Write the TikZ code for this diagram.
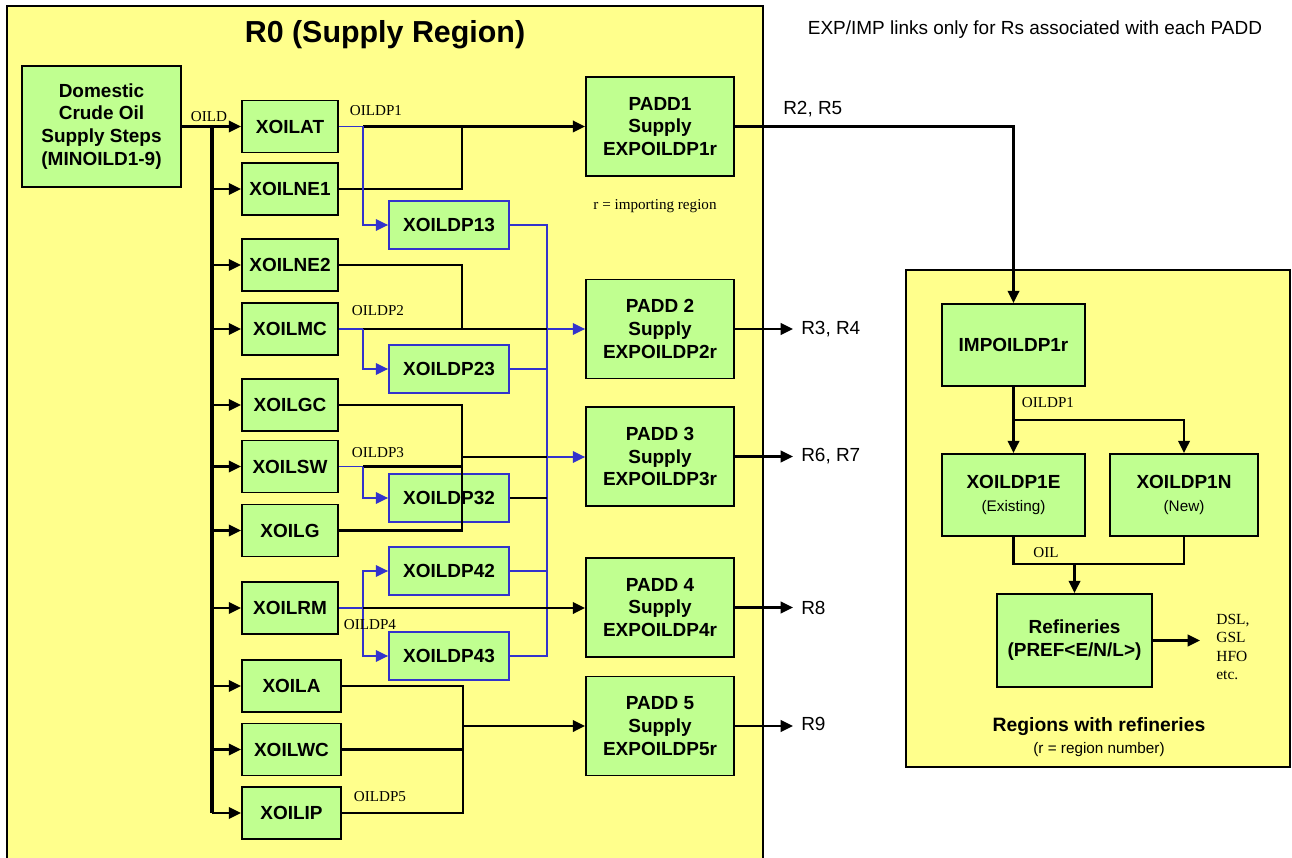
\documentclass[tikz,border=0pt]{standalone}
\usepackage{fontspec}
\setmainfont{Liberation Serif}
\setsansfont{Liberation Sans}
\usetikzlibrary{arrows.meta,positioning}
\definecolor{regionyellow}{RGB}{255,255,140}
\definecolor{boxgreen}{RGB}{192,255,144}
\definecolor{linkblue}{RGB}{51,51,204}

\begin{document}
\begin{tikzpicture}[x=0.02cm,y=-0.02cm,
  box/.style={draw=black,fill=boxgreen,line width=1pt,align=center,inner sep=1pt,
    font=\sffamily\bfseries\fontsize{10.8}{13}\selectfont},
  xbox/.style={box,minimum width=1.92cm,minimum height=1.04cm},
  dpbox/.style={box,draw=linkblue,minimum width=2.4cm,minimum height=0.96cm},
  paddbox/.style={box,minimum width=2.96cm,minimum height=1.98cm},
  flow/.style={line width=1.4pt},
  arr/.style={flow,-{Triangle[length=7pt,width=6.5pt]}},
  blueflow/.style={line width=1.1pt,draw=linkblue},
  bluearr/.style={blueflow,-{Triangle[length=7pt,width=6.5pt]}},
  lbl/.style={font=\fontsize{8.6}{10.5}\selectfont,inner sep=0pt},
  rlbl/.style={font=\sffamily\fontsize{10.8}{13}\selectfont,inner xsep=4.5pt,inner ysep=0pt,anchor=west}]
\useasboundingbox (0,0) rectangle (1292,858);

\draw[fill=regionyellow,line width=1.2pt] (7,6) rectangle (763,880);
\draw[fill=regionyellow,line width=1.2pt] (906,270) rectangle (1290,767);
\node[font=\sffamily\bfseries\fontsize{17.3}{20}\selectfont] (title) at (385,35) {R0 (Supply Region)};
\node[font=\sffamily\fontsize{10.8}{13}\selectfont] (note) at (1035,30) {EXP/IMP links only for Rs associated with each PADD};

\node[box,minimum width=3.18cm,minimum height=2.42cm] (dom) at (101.5,126.5) {Domestic\\Crude Oil\\Supply Steps\\(MINOILD1-9)};

\node[xbox] (XOILAT) at (290,126.5) {XOILAT};
\node[xbox] (XOILNE1) at (290,189) {XOILNE1};
\node[xbox] (XOILNE2) at (290,265) {XOILNE2};
\node[xbox] (XOILMC) at (290,329) {XOILMC};
\node[xbox] (XOILGC) at (290,405) {XOILGC};
\node[xbox] (XOILSW) at (290,466.5) {XOILSW};
\node[xbox] (XOILG) at (290,530.5) {XOILG};
\node[xbox] (XOILRM) at (290,608) {XOILRM};
\node[xbox,minimum width=1.98cm] (XOILA) at (291.5,686) {XOILA};
\node[xbox,minimum width=1.98cm] (XOILWC) at (291.5,749.5) {XOILWC};
\node[xbox,minimum width=1.98cm] (XOILIP) at (291.5,813) {XOILIP};

\node[dpbox] (XOILDP13) at (449,225) {XOILDP13};
\node[dpbox] (XOILDP23) at (449,369) {XOILDP23};
\node[dpbox] (XOILDP32) at (449,498) {XOILDP32};
\node[dpbox] (XOILDP42) at (449,571) {XOILDP42};
\node[dpbox] (XOILDP43) at (449,656) {XOILDP43};

\node[paddbox] (PADD1) at (660,126.5) {PADD1\\Supply\\EXPOILDP1r};
\node[paddbox] (PADD2) at (660,329) {PADD 2\\Supply\\EXPOILDP2r};
\node[paddbox] (PADD3) at (660,456.5) {PADD 3\\Supply\\EXPOILDP3r};
\node[paddbox] (PADD4) at (660,607.5) {PADD 4\\Supply\\EXPOILDP4r};
\node[paddbox] (PADD5) at (660,726) {PADD 5\\Supply\\EXPOILDP5r};

\node[box,minimum width=2.86cm,minimum height=1.64cm] (imp) at (1013.5,345) {IMPOILDP1r};
\node[box,minimum width=2.86cm,minimum height=1.64cm] (exist) at (1013.5,495) {XOILDP1E\\{\mdseries\fontsize{8.7}{10.5}\selectfont(Existing)}};
\node[box,minimum width=2.96cm,minimum height=1.64cm] (new) at (1184,495) {XOILDP1N\\{\mdseries\fontsize{8.7}{10.5}\selectfont(New)}};
\node[box,minimum width=3.1cm,minimum height=1.86cm] (ref) at (1074.5,640.5) {Refineries\\(PREF<E/N/L>)};

\coordinate (bustop) at (212,126.5);
\coordinate (busend) at (212,813);
\draw[arr] (dom.east) -- (XOILAT.west);
\draw[line width=2pt] (bustop) -- (busend);
\draw[arr] (busend) -- (XOILIP.west);
\draw[arr] (XOILNE1.west -| bustop) -- (XOILNE1.west);
\draw[arr] (XOILNE2.west -| bustop) -- (XOILNE2.west);
\draw[arr] (XOILMC.west -| bustop) -- (XOILMC.west);
\draw[arr] (XOILGC.west -| bustop) -- (XOILGC.west);
\draw[arr] (XOILSW.west -| bustop) -- (XOILSW.west);
\draw[arr] (XOILG.west -| bustop) -- (XOILG.west);
\draw[arr] (XOILRM.west -| bustop) -- (XOILRM.west);
\draw[arr] (XOILA.west -| bustop) -- (XOILA.west);
\draw[arr] (XOILWC.west -| bustop) -- (XOILWC.west);
\node[lbl] (oild) at (209,117) {OILD};

\coordinate (j1) at (363,126.5);
\coordinate (m1) at (462,126.5);
\draw[flow] (XOILNE1.east) -| (m1);
\draw[arr] (j1) -- (PADD1.west);
\draw[blueflow] (XOILAT.east) -- (j1);
\draw[bluearr] (j1) |- (XOILDP13.west);
\node[lbl] (oildp1) at (376,111) {OILDP1};

\coordinate (btop) at (547,225);
\coordinate (bbot) at (547,656);
\draw[blueflow] (XOILDP13.east) -- (btop) -- (bbot) -- (XOILDP43.east);
\draw[blueflow] (XOILDP23.east) -- (XOILDP23.east -| btop);
\draw[blueflow] (XOILDP42.east) -- (XOILDP42.east -| btop);
\draw[flow] (XOILDP32.east) -- (XOILDP32.east -| btop);

\coordinate (j2) at (363,329);
\coordinate (m2) at (462,329);
\coordinate (b2) at (547,329);
\draw[flow] (XOILNE2.east) -| (m2);
\draw[flow] (j2) -- (b2);
\draw[bluearr] (b2) -- (PADD2.west);
\draw[blueflow] (XOILMC.east) -- (j2);
\draw[bluearr] (j2) |- (XOILDP23.west);
\node[lbl] (oildp2) at (378,311) {OILDP2};

\coordinate (j3) at (363,466.5);
\coordinate (m3top) at (462,405);
\coordinate (m3) at (462,457);
\coordinate (m3bot) at (462,530.5);
\coordinate (b3) at (547,457);
\draw[flow] (XOILGC.east) -- (m3top) -- (m3bot) -- (XOILG.east);
\draw[flow] (j3) -- (j3 -| m3top);
\draw[flow] (m3) -- (b3);
\draw[bluearr] (b3) -- (b3 -| PADD3.west);
\draw[blueflow] (XOILSW.east) -- (j3);
\draw[bluearr] (j3) |- (XOILDP32.west);
\node[lbl] (oildp3) at (378,453) {OILDP3};

\coordinate (j4) at (363,608);
\draw[blueflow] (XOILRM.east) -- (j4);
\draw[bluearr] (j4) |- (XOILDP42.west);
\draw[bluearr] (j4) |- (XOILDP43.west);
\draw[arr] (j4) -- (j4 -| PADD4.west);
\node[lbl] (oildp4) at (370,625) {OILDP4};

\coordinate (m5top) at (463,686);
\coordinate (m5) at (463,726);
\coordinate (m5bot) at (463,813);
\draw[flow] (XOILA.east) -- (m5top) -- (m5bot) -- (XOILIP.east);
\draw[flow] (XOILWC.east) -- (XOILWC.east -| m5top);
\draw[arr] (m5) -- (PADD5.west);
\node[lbl] (oildp5) at (380,797) {OILDP5};

\node[lbl] (imptxt) at (655,206) {r = importing region};

\node[rlbl] (r25) at (775,109) {R2, R5};
\node[rlbl] (r34) at (793,329) {R3, R4};
\node[rlbl] (r67) at (793,456.5) {R6, R7};
\node[rlbl] (r8) at (793,607.5) {R8};
\node[rlbl] (r9) at (793,724) {R9};
\draw[arr] (PADD1.east) -| (imp.north);
\draw[arr] (PADD2.east) -- (r34.west);
\draw[arr] (PADD3.east) -- (r67.west);
\draw[arr] (PADD4.east) -- (r8.west);
\draw[arr] (PADD5.east) -- (PADD5.east -| r9.west);

\coordinate (split) at (1013.5,420);
\coordinate (merge) at (1074.5,564);
\coordinate (prodtip) at (1200,640.5);
\draw[arr] (imp.south) -- (exist.north);
\draw[arr] (split) -| (new.north);
\draw[flow] (exist.south) |- (new.south |- merge) -- (new.south);
\draw[arr] (merge) -- (ref.north);
\draw[arr] (ref.east) -- (prodtip);
\node[lbl] (oildp1r) at (1048,403) {OILDP1};
\node[lbl] (oil) at (1046,553) {OIL};
\node[lbl,font=\fontsize{8.8}{10.5}\selectfont,align=left,anchor=west] (prod) at (1216,647) {DSL,\\GSL\\HFO\\etc.};

\node[font=\sffamily\bfseries\fontsize{11}{13}\selectfont] (rwr) at (1099,727) {Regions with refineries};
\node[font=\sffamily\fontsize{8.7}{10}\selectfont] (rnum) at (1099,750) {(r = region number)};
\end{tikzpicture}
\end{document}
